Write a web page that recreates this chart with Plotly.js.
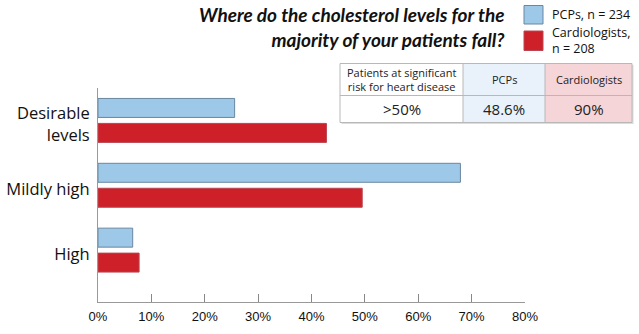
<!DOCTYPE html>
<html>
<head>
<meta charset="utf-8">
<script src="https://cdn.plot.ly/plotly-3.0.1.min.js"></script>
<style>html,body{margin:0;padding:0;background:#fff;}#chart{width:639px;height:334px;}</style>
</head>
<body>
<div id="chart"></div>
<script>
// ---- data ----
const categories = ["Desirable<br>levels", "Mildly high", "High"];
const pcpValues = [25.6, 67.9, 6.5];
const cardioValues = [42.8, 49.5, 7.7];
const seriesNames = ["PCPs, n = 234", "Cardiologists,<br>n = 208"];
const xTickValues = [0, 10, 20, 30, 40, 50, 60, 70, 80];
const xTickLabels = ["0%", "10%", "20%", "30%", "40%", "50%", "60%", "70%", "80%"];
const tableHeader = ["Patients at significant<br>risk for heart disease", "PCPs", "Cardiologists"];
const tableRow = [">50%", "48.6%", "90%"];
const titleText = "Where do the cholesterol levels for the<br>majority of your patients fall?";

// ---- layout geometry helpers ----
const W = 639, H = 334;
const M = {l: 98, r: 5, t: 5, b: 32};
const PW = W - M.l - M.r, PH = H - M.t - M.b;
const px = x => (x - M.l) / PW;
const py = y => (H - M.b - y) / PH;

const blue = "rgb(157,200,232)", blueLine = "rgb(105,135,160)";
const red = "rgb(206,32,41)", redLine = "rgb(185,70,80)";

const traces = [
  {
    type: "bar", orientation: "h", name: seriesNames[0],
    y: categories, x: pcpValues,
    marker: {color: blue, line: {color: blueLine, width: 1}},
    hoverinfo: "skip", showlegend: false
  },
  {
    type: "bar", orientation: "h", name: seriesNames[1],
    y: categories, x: cardioValues,
    marker: {color: red, line: {color: redLine, width: 1}},
    hoverinfo: "skip", showlegend: false
  }
];

// table geometry (pixels)
const colEdges = [340, 463, 545, 632];
const rowEdges = [63.5, 95.5, 122.5];
const colFills = ["#ffffff", "#e9f2fb", "#f6d5d8"];
const gridColor = "#b8b8b8";

const shapes = [
  {type: "rect", xref: "paper", yref: "paper", x0: px(524), x1: px(543), y0: py(24), y1: py(5.5),
   fillcolor: blue, line: {color: blueLine, width: 1}},
  {type: "rect", xref: "paper", yref: "paper", x0: px(524), x1: px(543), y0: py(50.5), y1: py(31),
   fillcolor: red, line: {color: redLine, width: 1}},
  // faint shadow of table
  {type: "rect", xref: "paper", yref: "paper", x0: px(colEdges[0] + 1.5), x1: px(colEdges[3] + 1.5),
   y0: py(rowEdges[2] + 1.5), y1: py(rowEdges[0] + 1.5), fillcolor: "#dcdcdc", line: {width: 0}}
];
for (let c = 0; c < 3; c++) {
  shapes.push({type: "rect", xref: "paper", yref: "paper",
    x0: px(colEdges[c]), x1: px(colEdges[c + 1]), y0: py(rowEdges[2]), y1: py(rowEdges[0]),
    fillcolor: colFills[c], line: {width: 0}});
}
shapes.push({type: "rect", xref: "paper", yref: "paper",
  x0: px(colEdges[0]), x1: px(colEdges[3]), y0: py(rowEdges[2]), y1: py(rowEdges[0]),
  line: {color: gridColor, width: 1}});
shapes.push({type: "line", xref: "paper", yref: "paper",
  x0: px(colEdges[0]), x1: px(colEdges[3]), y0: py(rowEdges[1]), y1: py(rowEdges[1]),
  line: {color: gridColor, width: 1}});
for (let c = 1; c < 3; c++) {
  shapes.push({type: "line", xref: "paper", yref: "paper",
    x0: px(colEdges[c]), x1: px(colEdges[c]), y0: py(rowEdges[2]), y1: py(rowEdges[0]),
    line: {color: gridColor, width: 1}});
}

const tableFont = "Open Sans, Noto Sans, sans-serif";
const annotations = [
  {xref: "paper", yref: "paper", x: px(507), y: py(1), xanchor: "right", yanchor: "top",
   align: "right", showarrow: false, text: "<b><i>" + titleText + "</i></b>",
   font: {family: "Lato, Open Sans, sans-serif", size: 19, color: "#111"}},
  {xref: "paper", yref: "paper", x: px(550), y: py(15), xanchor: "left", yanchor: "middle",
   align: "left", showarrow: false, text: seriesNames[0],
   font: {family: tableFont, size: 12.5, color: "#111"}},
  {xref: "paper", yref: "paper", x: px(550), y: py(40), xanchor: "left", yanchor: "middle",
   align: "left", showarrow: false, text: seriesNames[1],
   font: {family: tableFont, size: 12.5, color: "#111"}}
];
for (let c = 0; c < 3; c++) {
  const cx = (colEdges[c] + colEdges[c + 1]) / 2;
  annotations.push({xref: "paper", yref: "paper", x: px(cx), y: py((rowEdges[0] + rowEdges[1]) / 2 + 0.5),
    xanchor: "center", yanchor: "middle", align: "center", showarrow: false,
    text: tableHeader[c], font: {family: tableFont, size: 11, color: "#222"}});
  annotations.push({xref: "paper", yref: "paper", x: px(cx), y: py((rowEdges[1] + rowEdges[2]) / 2),
    xanchor: "center", yanchor: "middle", align: "center", showarrow: false,
    text: tableRow[c], font: {family: tableFont, size: 15, color: "#222"}});
}

const layout = {
  width: W, height: H,
  margin: M,
  paper_bgcolor: "#fff", plot_bgcolor: "#fff",
  barmode: "group", bargap: 0.23, bargroupgap: 0.24,
  showlegend: false,
  xaxis: {
    domain: [0, px(525)],
    range: [0, 80], tickvals: xTickValues, ticktext: xTickLabels,
    ticks: "inside", ticklen: 8, tickcolor: "#888", tickwidth: 1,
    showline: true, linecolor: "#999", linewidth: 1,
    showgrid: false, zeroline: false,
    ticklabelstandoff: 2,
    tickfont: {family: "Liberation Sans, Arial, sans-serif", size: 13, color: "#111"},
    fixedrange: true
  },
  yaxis: {
    domain: [0, py(88)],
    type: "category", categoryorder: "array", categoryarray: categories,
    range: [2.8, -0.5],
    showline: true, linecolor: "#999", linewidth: 1,
    showgrid: false, zeroline: false, ticks: "",
    ticklabelstandoff: 4,
    ticklabelshift: -4,
    tickfont: {family: tableFont, size: 16.5, color: "#111"},
    fixedrange: true
  },
  shapes: shapes,
  annotations: annotations
};

Plotly.newPlot("chart", traces, layout, {staticPlot: true, displayModeBar: false});
</script>
</body>
</html>
